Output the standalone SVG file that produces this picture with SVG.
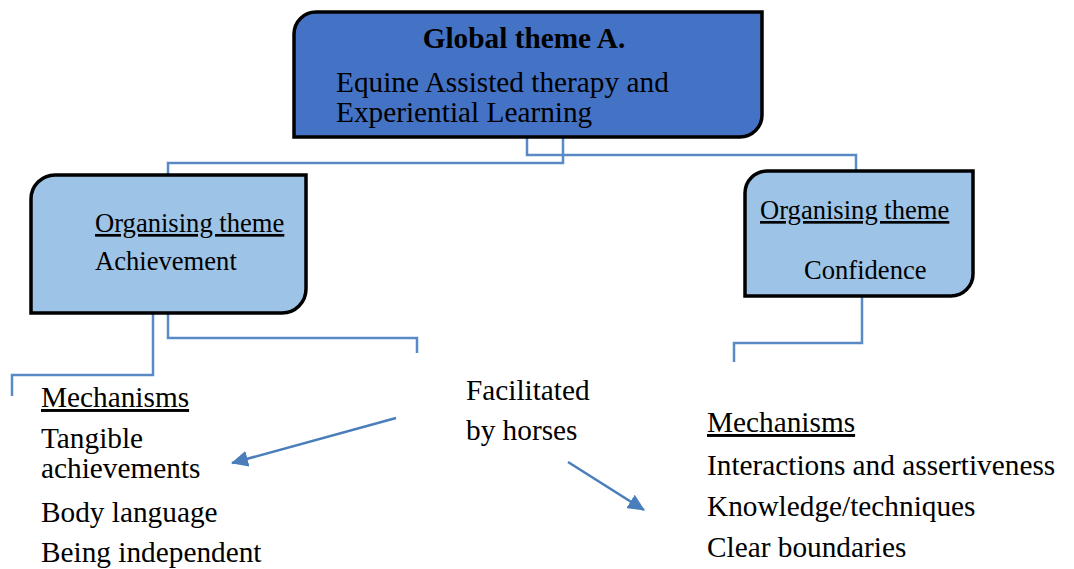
<svg xmlns="http://www.w3.org/2000/svg" width="1074" height="569" viewBox="0 0 1074 569">
<style>
.t{font-family:"Liberation Serif","Times New Roman",serif;fill:#000}
.big{font-size:29.3px}
.mid{font-size:26.6px}
.conn{fill:none;stroke:#5a8ac6;stroke-width:2.5}
.arr{fill:none;stroke:#4a7ebb;stroke-width:2.5}
.box{stroke:#000;stroke-width:3.5}
</style>
<defs>
<marker id="ah2" markerWidth="18" markerHeight="16" refX="16" refY="8" orient="auto" markerUnits="userSpaceOnUse">
<path d="M0,0 L17,8 L0,16 Z" fill="#4a7ebb"/>
</marker>
</defs>
<g id="connectors">
<polyline class="conn" points="527,137 527,155 856,155 856,171"/>
<polyline class="conn" points="563,137 563,163 168,163 168,175"/>
<polyline class="conn" points="153,313 153,375 12,375 12,396"/>
<polyline class="conn" points="168,313 168,338 417,338 417,353"/>
<polyline class="conn" points="862,296 862,343 734,343 734,362"/>
<line class="arr" x1="396" y1="418" x2="232" y2="463" marker-end="url(#ah2)"/>
<line class="arr" x1="568" y1="462" x2="644" y2="510" marker-end="url(#ah2)"/>
</g>
<g id="global">
<path class="box" fill="#4472c4" d="M316,12 H762 V115 A22,22 0 0 1 740,137 H294 V34 A22,22 0 0 1 316,12 Z"/>
<text class="t big" x="524" y="48" text-anchor="middle" font-weight="bold">Global theme A.</text>
<text class="t big" x="336" y="92">Equine Assisted therapy and</text>
<text class="t big" x="336" y="122">Experiential Learning</text>
</g>
<g id="achievement">
<path class="box" fill="#9dc3e6" d="M55,175 H306 V289 A24,24 0 0 1 282,313 H31 V199 A24,24 0 0 1 55,175 Z"/>
<text class="t mid" x="95" y="232" text-decoration="underline">Organising theme</text>
<text class="t mid" x="95" y="270">Achievement</text>
</g>
<g id="confidence">
<path class="box" fill="#9dc3e6" d="M767,171 H973 V274 A22,22 0 0 1 951,296 H745 V193 A22,22 0 0 1 767,171 Z"/>
<text class="t mid" x="760" y="219" text-decoration="underline">Organising theme</text>
<text class="t mid" x="804" y="279">Confidence</text>
</g>
<g id="left-mechanisms">
<text class="t big" x="41" y="407" text-decoration="underline">Mechanisms</text>
<text class="t big" x="41" y="448">Tangible</text>
<text class="t big" x="41" y="478">achievements</text>
<text class="t big" x="41" y="522">Body language</text>
<text class="t big" x="41" y="562">Being independent</text>
</g>
<g id="facilitated">
<text class="t big" x="466" y="400">Facilitated</text>
<text class="t big" x="466" y="440">by horses</text>
</g>
<g id="right-mechanisms">
<text class="t big" x="707" y="432" text-decoration="underline">Mechanisms</text>
<text class="t big" x="707" y="475">Interactions and assertiveness</text>
<text class="t big" x="707" y="516">Knowledge/techniques</text>
<text class="t big" x="707" y="557">Clear boundaries</text>
</g>
</svg>
